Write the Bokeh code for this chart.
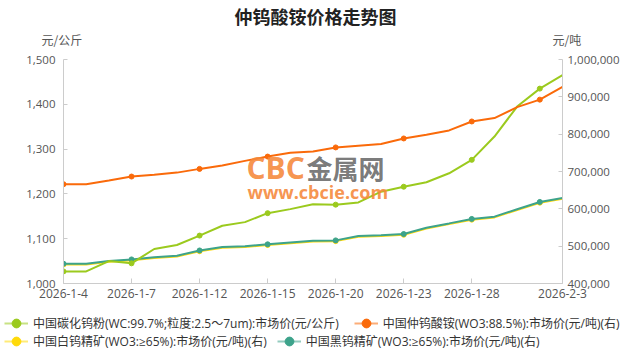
from bokeh.plotting import figure
from bokeh.layouts import column
from bokeh.models import (Range1d, LinearAxis, FixedTicker, NumeralTickFormatter,
                          Label, Legend, LegendItem)
from bokeh.core.properties import value
from bokeh.embed import file_html
from bokeh.resources import INLINE

# ---------------- data ----------------
dates = ["2026-1-4", "2026-1-5", "2026-1-6", "2026-1-7", "2026-1-8", "2026-1-9",
         "2026-1-12", "2026-1-13", "2026-1-14", "2026-1-15", "2026-1-16", "2026-1-19",
         "2026-1-20", "2026-1-21", "2026-1-22", "2026-1-23", "2026-1-26", "2026-1-27",
         "2026-1-28", "2026-1-29", "2026-1-30", "2026-2-2", "2026-2-3"]

wc_powder = [1027, 1027, 1050, 1045, 1077, 1086, 1107, 1129, 1137, 1157, 1166, 1177,
             1176, 1181, 1205, 1216, 1226, 1246, 1276, 1328, 1395, 1435, 1465]

apt = [666000, 666000, 676000, 686500, 691000, 697000, 707000, 716000, 728500, 740000,
       750000, 753500, 764500, 769000, 773500, 788500, 798500, 810000, 834000, 843000,
       872500, 892500, 926500]

white_conc = [451000, 451000, 458000, 462500, 468000, 472500, 486500, 495500, 497500,
              503000, 508000, 512500, 513500, 525000, 527000, 530500, 547500, 559000,
              571000, 577000, 597000, 616500, 627000]

black_conc = [453000, 453000, 460000, 464500, 470000, 474500, 488500, 497500, 499500,
              505000, 510000, 514500, 515500, 527000, 529000, 532500, 549500, 561000,
              573000, 579000, 599000, 618500, 629000]

series_names = ["中国碳化钨粉(WC:99.7%;粒度:2.5～7um):市场价(元/公斤)",
                "中国仲钨酸铵(WO3:88.5%):市场价(元/吨)(右)",
                "中国白钨精矿(WO3:≥65%):市场价(元/吨)(右)",
                "中国黑钨精矿(WO3:≥65%):市场价(元/吨)(右)"]

x_tick_idx = [0, 3, 6, 9, 12, 15, 18, 22]
left_ticks = [1000, 1100, 1200, 1300, 1400, 1500]
right_ticks = [400000, 500000, 600000, 700000, 800000, 900000, 1000000]

title_text = "仲钨酸铵价格走势图"
left_unit = "元/公斤"
right_unit = "元/吨"

# ---------------- styles ----------------
C_GREEN = "#9BCA1E"
C_ORANGE = "#FA6A0A"
C_YELLOW = "#FFDA0A"
C_TEAL = "#3DA38B"
FONT = "Open Sans, Noto Sans CJK SC"
CJK = "Noto Sans CJK SC"
NAN = float("nan")

W = 622
HEAD_H, MAIN_H, FOOT_H = 50, 254, 48
# main frame spans page x 63..566 and page y 59..283
FL, FR = 63, 56
FT = 59 - HEAD_H
FB = HEAD_H + MAIN_H - 283


def no_align(f):
    if "frame_align" in f.properties():
        f.frame_align = False
    return f


def blank(h):
    f = figure(width=W, height=h, output_backend="svg", toolbar_location=None,
               x_range=Range1d(0, 1), y_range=Range1d(0, 1),
               x_axis_type=None, y_axis_type=None, min_border=0)
    f.outline_line_color = None
    f.grid.visible = False
    return no_align(f)

# ---------------- header: title + units ----------------
head = blank(HEAD_H)

def head_label(text, px, py, size, color, align="left", bold=False):
    head.add_layout(Label(x=px, y=HEAD_H - py, x_units="screen", y_units="screen",
                          text=text, text_align=align, text_baseline="middle",
                          text_font_size=size, text_color=color, text_font=CJK,
                          text_font_style="bold" if bold else "normal"))

head_label(title_text, 315, 15, "18px", "#222222", align="center", bold=True)
head_label(left_unit, 41, 39, "12px", "#555555")
head_label(right_unit, 552, 39, "12px", "#555555")

# ---------------- main chart ----------------
p = figure(width=W, height=MAIN_H, output_backend="svg", toolbar_location=None,
           x_range=Range1d(0, len(dates) - 1), y_range=Range1d(left_ticks[0], left_ticks[-1]),
           min_border_left=FL, min_border_right=FR, min_border_top=FT, min_border_bottom=FB)
no_align(p)
p.extra_y_ranges = {"r": Range1d(right_ticks[0], right_ticks[-1])}
p.outline_line_color = None
p.xgrid.visible = False
p.ygrid.visible = False

raxis = LinearAxis(y_range_name="r")
p.add_layout(raxis, "right")

p.xaxis.ticker = FixedTicker(ticks=x_tick_idx)
p.xaxis.major_label_overrides = {i: dates[i] for i in x_tick_idx}
p.yaxis[0].ticker = FixedTicker(ticks=left_ticks)
raxis.ticker = FixedTicker(ticks=right_ticks)
p.yaxis[0].formatter = NumeralTickFormatter(format="0,0")
raxis.formatter = NumeralTickFormatter(format="0,0")

for ax in [p.xaxis[0], p.yaxis[0], raxis]:
    ax.axis_line_color = "#cccccc"
    ax.axis_line_width = 1
    ax.major_tick_line_color = "#cccccc"
    ax.major_tick_in = 4
    ax.major_tick_out = 0
    ax.minor_tick_line_color = None
    ax.major_label_text_font_size = "11.5px"
    ax.major_label_text_color = "#555555"
    ax.major_label_text_font = FONT
    ax.major_label_standoff = 8
    ax.axis_label_standoff = 0
p.xaxis[0].major_tick_in = 5
p.xaxis[0].major_label_standoff = 5
p.xaxis[0].major_label_text_font_size = "12px"
raxis.major_label_standoff = 5

idx = list(range(len(dates)))
mk = idx[::3]

def draw(vals, color, rname=None):
    kw = {} if rname is None else {"y_range_name": rname}
    p.line(idx, vals, line_color=color, line_width=2, **kw)
    p.scatter(mk, [vals[i] for i in mk], size=5, fill_color=color, line_color=color, **kw)

draw(white_conc, C_YELLOW, "r")
draw(black_conc, C_TEAL, "r")
draw(wc_powder, C_GREEN)
draw(apt, C_ORANGE, "r")

# watermark (inside the frame)
PX0, PY0 = FL, 283
def add_wm(text, px, py, size, color, font, alpha=0.9):
    p.add_layout(Label(x=px - PX0, y=PY0 - py, x_units="screen", y_units="screen", text=text,
                       text_align="left", text_baseline="middle", text_font_size=size,
                       text_color=color, text_font=font, text_alpha=alpha,
                       text_font_style="bold"))

add_wm("CBC", 246, 167, "30px", "#F5883A", "Open Sans")
add_wm("金属网", 306, 167, "26px", "#6A6A6A", CJK)
add_wm("www.cbcie.com", 247, 191, "18px", "#F5883A", "Open Sans")

# ---------------- footer: legend ----------------
foot = blank(FOOT_H)
FOOT_TOP = HEAD_H + MAIN_H

def leg_glyphs(color):
    # placeholder renderers (a single missing value) that only feed the legend swatches
    l = foot.line([NAN], [NAN], line_color=color, line_width=2, line_alpha=0.55)
    s = foot.scatter([NAN], [NAN], fill_color=color, line_color=color)
    return [l, s]

g_wc = leg_glyphs(C_GREEN)
g_apt = leg_glyphs(C_ORANGE)
g_white = leg_glyphs(C_YELLOW)
g_black = leg_glyphs(C_TEAL)

LH = 22
def legend_row(items, px_left, py_center, spacing):
    bottom = py_center + LH / 2 - FOOT_TOP
    return Legend(items=items, location=(px_left, FOOT_H - bottom), orientation="horizontal",
                  padding=0, margin=0, spacing=spacing,
                  border_line_alpha=0, background_fill_alpha=0,
                  glyph_width=24, glyph_height=LH, label_height=LH,
                  label_standoff=5, label_text_font_size="12px",
                  label_text_color="#333333", label_text_font=FONT)

row1 = legend_row([LegendItem(label=value(series_names[0]), renderers=g_wc),
                   LegendItem(label=value(series_names[1]), renderers=g_apt)], 4, 323, 15)
row2 = legend_row([LegendItem(label=value(series_names[2]), renderers=g_white),
                   LegendItem(label=value(series_names[3]), renderers=g_black)], 4, 341, 10)
foot.add_layout(row1, "center")
foot.add_layout(row2, "center")

layout = column(head, p, foot, spacing=0)
open("out.html", "w").write(file_html(layout, INLINE))
